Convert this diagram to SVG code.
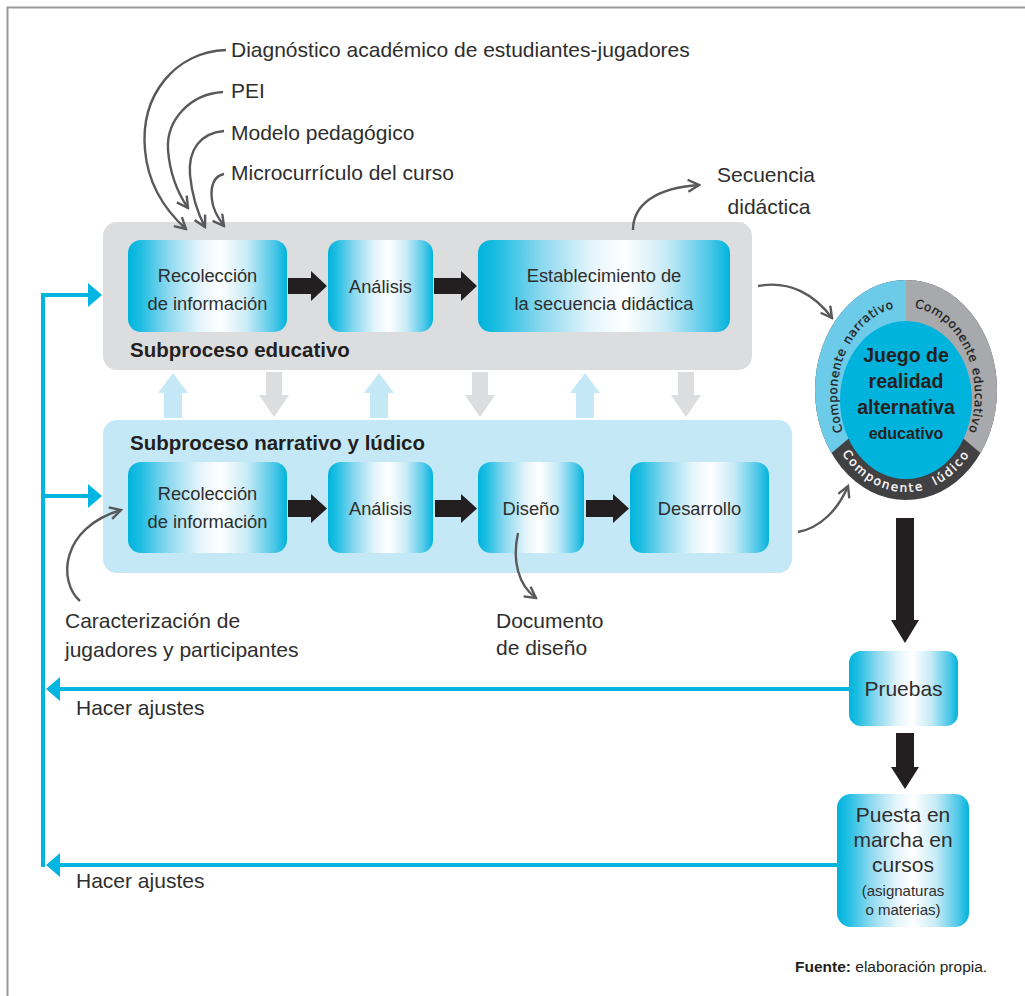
<svg xmlns="http://www.w3.org/2000/svg" width="1025" height="996" viewBox="0 0 1025 996">
<defs>
<style>
.lbl{font-family:"Liberation Sans",Arial,sans-serif;font-size:21px;fill:#2e2e2e}
.nt{font-family:"Liberation Sans",Arial,sans-serif;font-size:18.3px;fill:#2e2e2e;text-anchor:middle}
.big{font-family:"Liberation Sans",Arial,sans-serif;font-size:21px;fill:#2e2e2e;text-anchor:middle}
.sm{font-family:"Liberation Sans",Arial,sans-serif;font-size:15px;fill:#2e2e2e;text-anchor:middle}
.ttl{font-family:"Liberation Sans",Arial,sans-serif;font-size:20.5px;font-weight:bold;fill:#231f20}
.ring{font-family:"DejaVu Sans",sans-serif;font-size:12px;stroke-width:0.3}
.rd{fill:#231f20;stroke:#231f20;letter-spacing:0.6px}
.rw{fill:#ffffff;stroke:#ffffff;letter-spacing:2px}
.ctr{font-family:"Liberation Sans",Arial,sans-serif;font-weight:bold;fill:#231f20;text-anchor:middle}
.node{fill:url(#ng)}
.blk{fill:#231f20}
.gcurve{fill:none;stroke:#58595b;stroke-width:2.4;marker-end:url(#ah)}
.fb{stroke:#00b5e2;stroke-width:4;fill:none}
.fbh{fill:#00b5e2}
.upa{fill:#c5e8f6}
.dna{fill:#dcdddf}
</style>
<linearGradient id="ng" x1="0" y1="0" x2="1" y2="0">
<stop offset="0" stop-color="#00b3dc"/>
<stop offset="0.08" stop-color="#1fbee2"/>
<stop offset="0.25" stop-color="#8ad8ef"/>
<stop offset="0.45" stop-color="#e4f5fb"/>
<stop offset="0.58" stop-color="#ffffff"/>
<stop offset="0.75" stop-color="#c7ebf6"/>
<stop offset="0.92" stop-color="#4cc7e8"/>
<stop offset="1" stop-color="#00b3dc"/>
</linearGradient>
<marker id="ah" viewBox="-12 -7 14 14" refX="0" refY="0" markerWidth="14" markerHeight="14" orient="auto" markerUnits="userSpaceOnUse">
<path d="M-11,-6 L0,0 L-11,6" fill="none" stroke="#58595b" stroke-width="2.4"/>
</marker>
<clipPath id="outerclip"><ellipse cx="906" cy="390" rx="91" ry="110"/></clipPath>
<path id="cwpath" d="M906,483 A69,88 0 1 1 906,307 A69,88 0 1 1 906,483"/>
<path id="botpath" d="M826,395 A80,97 0 0 0 986,395"/>
</defs>

<rect width="1025" height="996" fill="#ffffff"/>
<g id="frame">
<path d="M7.5,996 L7.5,7.5 L1025,7.5" fill="none" stroke="#9a9a9a" stroke-width="2"/>
</g>

<g id="subproceso-educativo">
<rect x="103" y="222" width="649" height="148" rx="14" fill="#dcdddf"/>
<text class="ttl" x="130" y="357">Subproceso educativo</text>
</g>
<g id="subproceso-narrativo">
<rect x="103" y="420" width="689" height="153" rx="14" fill="#c5e8f6"/>
<text class="ttl" x="130" y="450">Subproceso narrativo y lúdico</text>
</g>

<g id="edu-recoleccion">
<rect class="node" x="128" y="240" width="159" height="92" rx="13"/>
<text class="nt" x="207.5" y="282">Recolección</text>
<text class="nt" x="207.5" y="310">de información</text>
</g>
<g id="edu-analisis">
<rect class="node" x="328" y="240" width="105" height="92" rx="13"/>
<text class="nt" x="380.5" y="293">Análisis</text>
</g>
<g id="edu-establecimiento">
<rect class="node" x="478" y="240" width="252" height="92" rx="13"/>
<text class="nt" x="604" y="282">Establecimiento de</text>
<text class="nt" x="604" y="310">la secuencia didáctica</text>
</g>

<g id="nar-recoleccion">
<rect class="node" x="128" y="462" width="159" height="91" rx="13"/>
<text class="nt" x="207.5" y="500">Recolección</text>
<text class="nt" x="207.5" y="528">de información</text>
</g>
<g id="nar-analisis">
<rect class="node" x="328" y="462" width="105" height="91" rx="13"/>
<text class="nt" x="380.5" y="515">Análisis</text>
</g>
<g id="nar-diseno">
<rect class="node" x="478" y="462" width="106" height="91" rx="13"/>
<text class="nt" x="531" y="515">Diseño</text>
</g>
<g id="nar-desarrollo">
<rect class="node" x="630" y="462" width="139" height="91" rx="13"/>
<text class="nt" x="699.5" y="515">Desarrollo</text>
</g>

<g id="juego">
<g clip-path="url(#outerclip)">
<rect x="810" y="275" width="195" height="230" fill="#414042"/>
<polygon points="906,390 906,270 790,270 790,488" fill="#6dcbea"/>
<polygon points="906,390 906,270 1022,270 1022,488" fill="#a7a9ac"/>
</g>
<ellipse cx="906" cy="400" rx="66" ry="79" fill="#00b3dd"/>
<text class="ring rd"><textPath href="#cwpath" startOffset="17.5%">Componente</textPath></text>
<text class="ring rd"><textPath href="#cwpath" startOffset="35.5%">narrativo</textPath></text>
<text class="ring rd"><textPath href="#cwpath" startOffset="51.7%">Compo</textPath></text>
<text class="ring rd"><textPath href="#cwpath" startOffset="60.9%">nente</textPath></text>
<text class="ring rd"><textPath href="#cwpath" startOffset="69.6%">educativo</textPath></text>
<text class="ring rw"><textPath href="#botpath" startOffset="22%">Compo</textPath></text>
<text class="ring rw"><textPath href="#botpath" startOffset="40.8%">nente</textPath></text>
<text class="ring rw"><textPath href="#botpath" startOffset="60.8%">lúdico</textPath></text>
<text class="ctr" x="906" y="362" font-size="19.5">Juego de</text>
<text class="ctr" x="906" y="388" font-size="19.5">realidad</text>
<text class="ctr" x="906" y="414" font-size="19.5">alternativa</text>
<text class="ctr" x="906" y="439" font-size="16">educativo</text>
</g>

<g id="pruebas">
<rect class="node" x="849" y="651" width="109" height="75" rx="12"/>
<text class="big" x="903.5" y="696">Pruebas</text>
</g>
<g id="puesta">
<rect class="node" x="837" y="794" width="132" height="133" rx="14"/>
<text class="big" x="903" y="822">Puesta en</text>
<text class="big" x="903" y="847">marcha en</text>
<text class="big" x="903" y="872">cursos</text>
<text class="sm" x="903" y="896">(asignaturas</text>
<text class="sm" x="903" y="915">o materias)</text>
</g>

<g id="labels">
<text class="lbl" x="231" y="57">Diagnóstico académico de estudiantes-jugadores</text>
<text class="lbl" x="231" y="98">PEI</text>
<text class="lbl" x="231" y="140">Modelo pedagógico</text>
<text class="lbl" x="231" y="180">Microcurrículo del curso</text>
<text class="lbl" x="766" y="182" text-anchor="middle">Secuencia</text>
<text class="lbl" x="769" y="214" text-anchor="middle">didáctica</text>
<text class="lbl" x="65" y="628">Caracterización de</text>
<text class="lbl" x="65" y="657">jugadores y participantes</text>
<text class="lbl" x="496" y="628">Documento</text>
<text class="lbl" x="496" y="655">de diseño</text>
<text class="lbl" x="76" y="715">Hacer ajustes</text>
<text class="lbl" x="76" y="888">Hacer ajustes</text>
<text x="795" y="972" font-family="Liberation Sans, Arial, sans-serif" font-size="15.5" fill="#231f20"><tspan font-weight="bold">Fuente:</tspan> elaboración propia.</text>
</g>

<g id="connectors">
<polygon class="blk" points="288,278 311,278 311,271 327,286 311,301 311,294 288,294"/>
<polygon class="blk" points="434,278 461,278 461,271 477,286 461,301 461,294 434,294"/>
<polygon class="blk" points="288,500 311,500 311,494 327,508.5 311,523 311,517 288,517"/>
<polygon class="blk" points="435,500 461,500 461,494 477,508.5 461,523 461,517 435,517"/>
<polygon class="blk" points="586,500 613,500 613,494 629,508.5 613,523 613,517 586,517"/>
<polygon class="blk" points="896,518 914,518 914,620 919,620 905,643 891,620 896,620"/>
<polygon class="blk" points="896,733 914,733 914,767 919,767 905,789 891,767 896,767"/>
<polygon class="upa" points="164,418 164,393 158,393 173,373 188,393 182,393 182,418"/>
<polygon class="upa" points="370,418 370,393 364,393 379,373 394,393 388,393 388,418"/>
<polygon class="upa" points="576,418 576,393 570,393 585,373 600,393 594,393 594,418"/>
<polygon class="dna" points="266,372 282,372 282,395 289,395 274,417 259,395 266,395"/>
<polygon class="dna" points="472,372 488,372 488,395 495,395 480,417 465,395 472,395"/>
<polygon class="dna" points="678,372 694,372 694,395 701,395 686,417 671,395 678,395"/>
<path class="gcurve" d="M226,50 C175,52 140,95 145,150 C148,185 165,210 186,229"/>
<path class="gcurve" d="M223,92 C190,94 166,120 168,150 C170,175 177,192 188,208"/>
<path class="gcurve" d="M224,131 C200,133 188,150 190,175 C192,195 197,212 205,227"/>
<path class="gcurve" d="M224,174 C214,176 210,186 212,200 C213,210 218,218 224,226"/>
<path class="gcurve" d="M633,230 C633,205 655,188 699,185"/>
<path class="gcurve" d="M758,286 C790,280 815,295 832,318"/>
<path class="gcurve" d="M798,532 C820,528 838,510 848,486"/>
<path class="gcurve" d="M80,601 C58,582 60,528 121,510"/>
<path class="gcurve" d="M518,533 C512,560 518,585 536,598"/>
<path class="fb" d="M43,293 L43,867"/>
<path class="fb" d="M41,295 L89,295"/>
<polygon class="fbh" points="88,283 102,295 88,307"/>
<path class="fb" d="M41,496 L89,496"/>
<polygon class="fbh" points="88,484 102,496 88,508"/>
<path class="fb" d="M849,689 L58,689"/>
<polygon class="fbh" points="46,689 60,677 60,701"/>
<path class="fb" d="M837,865 L58,865"/>
<polygon class="fbh" points="46,865 60,853 60,877"/>
</g>
</svg>
